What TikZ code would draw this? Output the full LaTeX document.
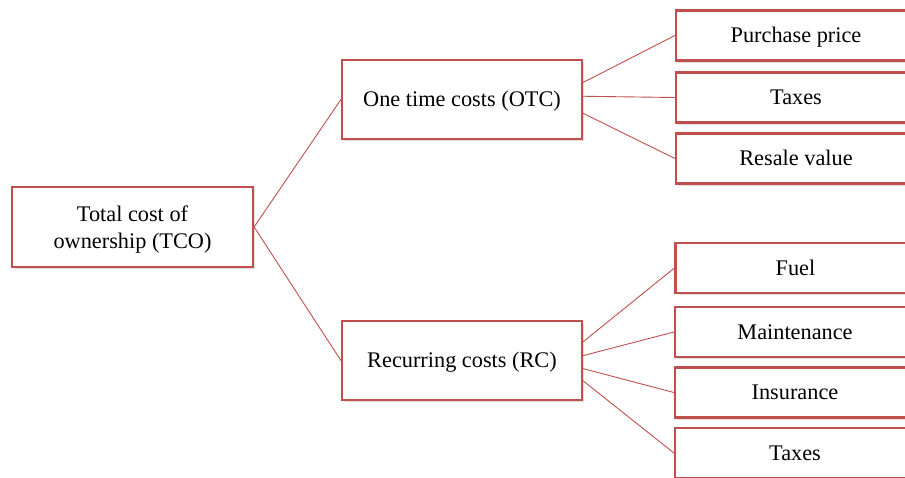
\documentclass[tikz,border=0pt]{standalone}
\usepackage{fontspec}
\setmainfont{Liberation Serif}
\usepackage{tikz}
\usetikzlibrary{shadows,calc}
\definecolor{boxred}{RGB}{192,80,77}
\tikzset{
  costbox/.style={draw=boxred, line width=2.2pt, fill=white, inner sep=0pt,
    minimum width=240pt, align=center, font=\fontsize{22.3}{27}\selectfont,
    drop shadow={opacity=0.25, shadow xshift=2pt, shadow yshift=-2pt}},
  leaf/.style={costbox, minimum height=50pt, text height=16pt, text depth=2pt},
  branch/.style={costbox, minimum height=79pt, text height=16pt, text depth=2pt},
  link/.style={draw=boxred, line width=0.9pt}
}
\begin{document}
\begin{tikzpicture}[x=1pt, y=-1pt]
    \useasboundingbox (0, 0) rectangle (905, 477);
    \clip (0, 0) rectangle (905, 477);
    % main boxes
    \node [costbox, minimum height=80pt, minimum width=241pt] (tco) at (132.5, 227) {\rule{0pt}{20pt}Total cost of\\ ownership (TCO)};
    \node [branch] (otc) at (462, 99.5) {One time costs (OTC)};
    \node [branch] (rc) at (462, 360.5) {Recurring costs (RC)};
    % one time costs
    \node [leaf] (purchase) at (796, 35.5) {Purchase price};
    \node [leaf] (taxesa) at (796, 97.5) {Taxes};
    \node [leaf] (resale) at (796, 158.5) {Resale value};
    % recurring costs
    \node [leaf] (fuel) at (795.5, 268) {Fuel};
    \node [leaf] (maint) at (795, 332) {Maintenance};
    \node [leaf] (insur) at (795, 392.5) {Insurance};
    \node [leaf] (taxesb) at (795, 453) {Taxes};
    % connectors
    \draw [link] (tco.east) -- (otc.west);
    \draw [link] (tco.east) -- (rc.west);
    \draw [link] ($(otc.north east)!0.29!(otc.south east)$) -- (purchase.west);
    \draw [link] ($(otc.north east)!0.46!(otc.south east)$) -- (taxesa.west);
    \draw [link] ($(otc.north east)!0.67!(otc.south east)$) -- (resale.west);
    \draw [link] ($(rc.north east)!0.27!(rc.south east)$) -- (fuel.west);
    \draw [link] ($(rc.north east)!0.44!(rc.south east)$) -- (maint.west);
    \draw [link] ($(rc.north east)!0.6!(rc.south east)$) -- (insur.west);
    \draw [link] ($(rc.north east)!0.75!(rc.south east)$) -- (taxesb.west);
\end{tikzpicture}
\end{document}
